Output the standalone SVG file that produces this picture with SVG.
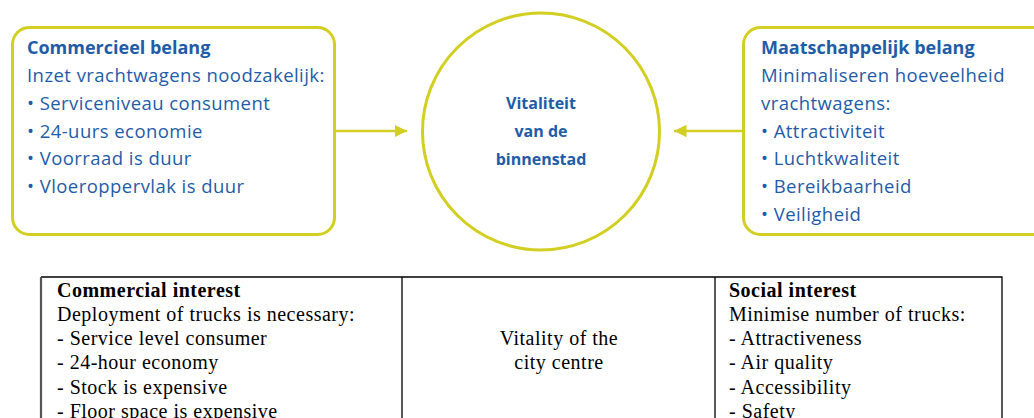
<svg xmlns="http://www.w3.org/2000/svg" width="1034" height="418" viewBox="0 0 1034 418">
<defs>
<style>
.box{fill:#fff;stroke:#d2cf22;stroke-width:3}
.conn{stroke:#d2cf22;stroke-width:2.5;fill:none}
.nl{font-family:"Open Sans","Liberation Sans",sans-serif;font-size:18.5px;letter-spacing:0.45px;fill:#1f5ca8}
.nb{font-weight:bold;font-size:18px;letter-spacing:0}
.ct{font-family:"Open Sans","Liberation Sans",sans-serif;font-size:16px;font-weight:bold;fill:#1f5ca8;text-anchor:middle}
.tt{font-family:"Liberation Serif","Times New Roman",serif;font-size:20px;letter-spacing:0.5px;fill:#000}
.tl{stroke:#000;stroke-width:1.3;fill:none}
</style>
<marker id="ah" viewBox="0 0 10 10" refX="10" refY="5" markerWidth="5" markerHeight="5" orient="auto" markerUnits="strokeWidth">
<path d="M0,0 L10,5 L0,10 z" fill="#d2cf22"/>
</marker>
</defs>
<rect width="1034" height="418" fill="#fff"/>
<g id="connectors">
<line class="conn" x1="335" y1="131" x2="407" y2="131" marker-end="url(#ah)"/>
<line class="conn" x1="743" y1="131" x2="674" y2="131" marker-end="url(#ah)"/>
</g>
<g id="commercieel">
<rect class="box" x="12.5" y="27.5" width="322" height="207" rx="17"/>
<text class="nl nb" x="27" y="54">Commercieel belang</text>
<text class="nl" x="27" y="82" letter-spacing="0.8">Inzet vrachtwagens noodzakelijk:</text>
<text class="nl" x="27" y="110">• Serviceniveau consument</text>
<text class="nl" x="27" y="138">• 24-uurs economie</text>
<text class="nl" x="27" y="165">• Voorraad is duur</text>
<text class="nl" x="27" y="193">• Vloeroppervlak is duur</text>
</g>
<g id="vitaliteit">
<circle class="box" cx="541" cy="131.5" r="118.5"/>
<text class="ct" x="541" y="109">Vitaliteit</text>
<text class="ct" x="541" y="137">van de</text>
<text class="ct" x="541" y="165">binnenstad</text>
</g>
<g id="maatschappelijk">
<rect class="box" x="743.5" y="27.5" width="310" height="207" rx="17"/>
<text class="nl nb" x="761" y="54">Maatschappelijk belang</text>
<text class="nl" x="761" y="82">Minimaliseren hoeveelheid</text>
<text class="nl" x="761" y="110">vrachtwagens:</text>
<text class="nl" x="761" y="138">• Attractiviteit</text>
<text class="nl" x="761" y="165">• Luchtkwaliteit</text>
<text class="nl" x="761" y="193">• Bereikbaarheid</text>
<text class="nl" x="761" y="221">• Veiligheid</text>
</g>
<g id="table">
<path class="tl" d="M41,277 H1002 V420 M402,277 V420 M715,277 V420"/>
<line x1="41" y1="277" x2="41" y2="420" stroke="#555" stroke-width="2.2"/>
<text class="tt" x="57" y="297" font-weight="bold" letter-spacing="0.4">Commercial interest</text>
<text class="tt" x="57" y="321">Deployment of trucks is necessary:</text>
<text class="tt" x="57" y="345">- Service level consumer</text>
<text class="tt" x="57" y="369">- 24-hour economy</text>
<text class="tt" x="57" y="394">- Stock is expensive</text>
<text class="tt" x="57" y="418">- Floor space is expensive</text>
<text class="tt" x="559" y="345" text-anchor="middle">Vitality of the</text>
<text class="tt" x="559" y="369" text-anchor="middle">city centre</text>
<text class="tt" x="729" y="297" font-weight="bold" letter-spacing="0.4">Social interest</text>
<text class="tt" x="729" y="321">Minimise number of trucks:</text>
<text class="tt" x="729" y="345">- Attractiveness</text>
<text class="tt" x="729" y="369">- Air quality</text>
<text class="tt" x="729" y="394">- Accessibility</text>
<text class="tt" x="729" y="418">- Safety</text>
</g>
</svg>
